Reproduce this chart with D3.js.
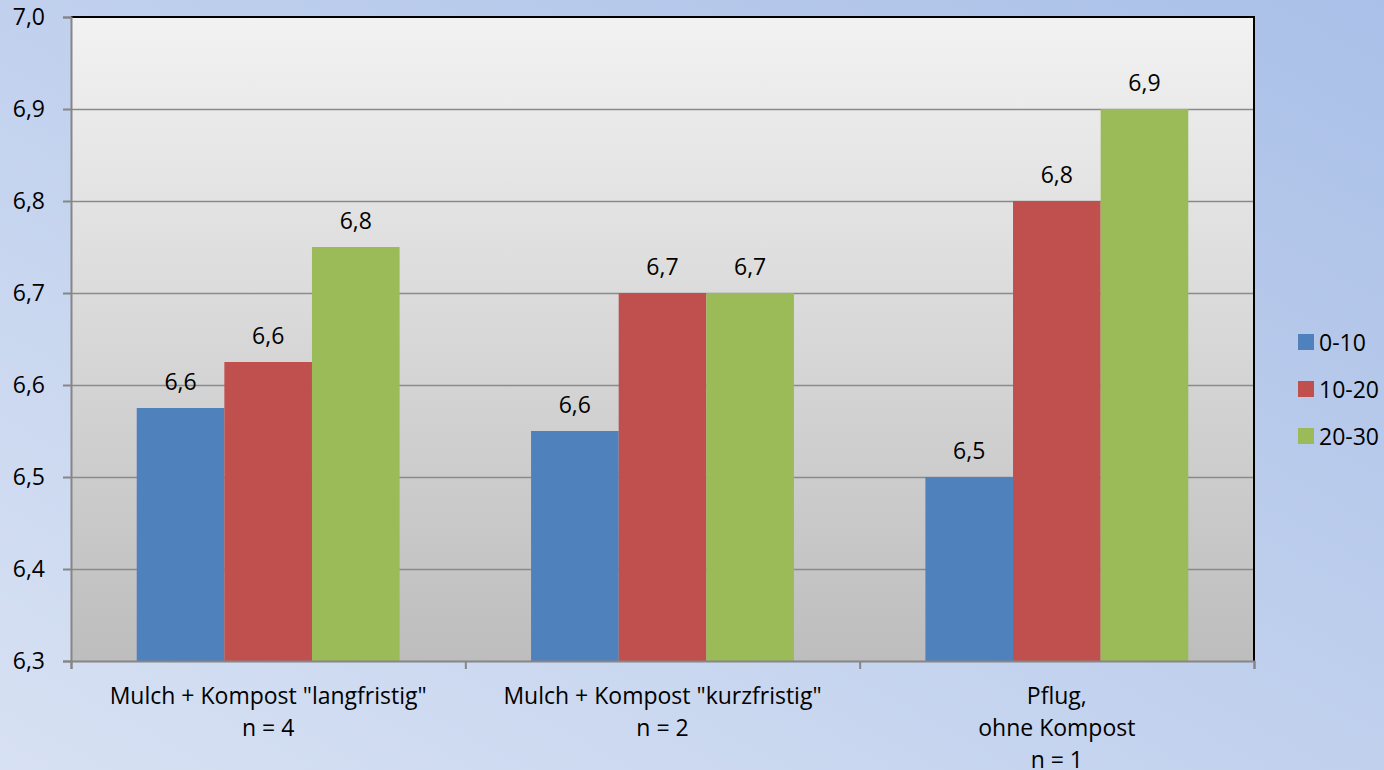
<!DOCTYPE html>
<html>
<head>
<meta charset="utf-8">
<script src="https://cdn.jsdelivr.net/npm/d3@7/dist/d3.min.js"></script>
<style>
  html, body { margin: 0; padding: 0; }
  body { width: 1384px; height: 770px; overflow: hidden; }
  svg text { font-family: "Open Sans", "Noto Sans", sans-serif; fill: #000; }
</style>
</head>
<body>
<svg id="chart" width="1384" height="770"></svg>
<script>
// Soil pH by depth (cm) for three tillage / compost variants
const categories = [
  ['Mulch + Kompost "langfristig"', 'n = 4'],
  ['Mulch + Kompost "kurzfristig"', 'n = 2'],
  ['Pflug,', 'ohne Kompost', 'n = 1']
];
const seriesNames = ["0-10", "10-20", "20-30"];
const depth0_10  = [6.575, 6.55, 6.5];
const depth10_20 = [6.625, 6.7, 6.8];
const depth20_30 = [6.75, 6.7, 6.9];
const yTicks = [6.3, 6.4, 6.5, 6.6, 6.7, 6.8, 6.9, 7.0];
const colors = ["#4f81bd", "#c0504d", "#9bbb59"];

const seriesValues = [depth0_10, depth10_20, depth20_30];
const FONT = 23;

const svg = d3.select("#chart");
const W = 1384, H = 770;
const plot = { left: 71, top: 17, right: 1254, bottom: 661 };

const defs = svg.append("defs");
const bg = defs.append("linearGradient").attr("id", "bg")
  .attr("x1", "0%").attr("y1", "100%").attr("x2", "100%").attr("y2", "0%");
bg.append("stop").attr("offset", "0%").attr("stop-color", "#d7e1f3");
bg.append("stop").attr("offset", "100%").attr("stop-color", "#aac0e8");

const pg = defs.append("linearGradient").attr("id", "plotbg")
  .attr("x1", "0").attr("y1", "0").attr("x2", "0").attr("y2", "1");
pg.append("stop").attr("offset", "0%").attr("stop-color", "#f2f2f2");
pg.append("stop").attr("offset", "100%").attr("stop-color", "#bdbdbd");

svg.append("rect").attr("width", W).attr("height", H).attr("fill", "url(#bg)");

const y = d3.scaleLinear().domain([6.3, 7.0]).range([plot.bottom, plot.top]);
const x0 = d3.scaleBand().domain(d3.range(categories.length))
  .range([plot.left, plot.right]).paddingInner(0).paddingOuter(0);
// bars fill 3/(3+1.5) of each category (gap width 150 %)
const x1 = d3.scaleBand().domain(d3.range(seriesNames.length))
  .range([0, x0.bandwidth()]).paddingOuter(0.75).paddingInner(0);

const fmt = v => d3.format(".1f")(v + 1e-9).replace(".", ",");

// plot area
svg.append("rect")
  .attr("x", plot.left).attr("y", plot.top)
  .attr("width", plot.right - plot.left).attr("height", plot.bottom - plot.top)
  .attr("fill", "url(#plotbg)");

// gridlines
svg.append("g").selectAll("line")
  .data(yTicks.filter(t => t > 6.3 && t < 7.0))
  .join("line")
  .attr("x1", plot.left).attr("x2", plot.right)
  .attr("y1", d => Math.round(y(d)) + 0.5).attr("y2", d => Math.round(y(d)) + 0.5)
  .attr("stroke", "#8a8a8a").attr("stroke-width", 1.5);

// bars
const groups = svg.append("g").selectAll("g")
  .data(categories.map((c, i) => i))
  .join("g")
  .attr("transform", i => `translate(${x0(i)},0)`);

groups.selectAll("rect")
  .data(i => seriesValues.map((s, k) => ({ k, v: s[i] })))
  .join("rect")
  .attr("x", d => x1(d.k))
  .attr("width", x1.bandwidth())
  .attr("y", d => y(d.v))
  .attr("height", d => y(6.3) - y(d.v))
  .attr("fill", d => colors[d.k]);

groups.selectAll("text")
  .data(i => seriesValues.map((s, k) => ({ k, v: s[i] })))
  .join("text")
  .attr("x", d => x1(d.k) + x1.bandwidth() / 2)
  .attr("y", d => y(d.v) - 27)
  .attr("text-anchor", "middle")
  .attr("dominant-baseline", "central")
  .attr("font-size", FONT)
  .text(d => fmt(d.v));

// frame: top and right edges black
svg.append("line").attr("x1", plot.left).attr("x2", plot.right + 1)
  .attr("y1", plot.top).attr("y2", plot.top).attr("stroke", "#000").attr("stroke-width", 2);
svg.append("line").attr("x1", plot.right).attr("x2", plot.right)
  .attr("y1", plot.top).attr("y2", plot.bottom).attr("stroke", "#000").attr("stroke-width", 2);

// y axis
const yAxis = svg.append("g").attr("transform", `translate(${plot.left},0)`)
  .call(d3.axisLeft(y).tickValues(yTicks).tickSize(8).tickPadding(18).tickFormat(fmt));
yAxis.select(".domain").attr("stroke", "#868686").attr("stroke-width", 2);
yAxis.selectAll(".tick line").attr("stroke", "#868686").attr("stroke-width", 2);
yAxis.selectAll(".tick text").attr("font-size", FONT)
  .attr("font-family", "'Open Sans', 'Noto Sans', sans-serif").attr("fill", "#000");

// x axis with ticks at category boundaries
const xb = d3.scaleLinear().domain([0, categories.length]).range([plot.left, plot.right]);
const xAxis = svg.append("g").attr("transform", `translate(0,${plot.bottom})`)
  .call(d3.axisBottom(xb).tickValues(d3.range(categories.length + 1)).tickSize(8).tickFormat(""));
xAxis.select(".domain").attr("stroke", "#868686").attr("stroke-width", 2);
xAxis.selectAll(".tick line").attr("stroke", "#868686").attr("stroke-width", 2);

// category labels
svg.append("g").selectAll("text")
  .data(categories)
  .join("text")
  .attr("x", (c, i) => x0(i) + x0.bandwidth() / 2)
  .attr("y", 696)
  .attr("text-anchor", "middle")
  .attr("font-size", FONT)
  .each(function (lines) {
    d3.select(this).selectAll("tspan").data(lines).join("tspan")
      .attr("x", d3.select(this).attr("x"))
      .attr("dy", (d, j) => j === 0 ? "0.35em" : 32)
      .text(d => d);
  });

// legend
const legend = svg.append("g").selectAll("g")
  .data(seriesNames)
  .join("g")
  .attr("transform", (d, i) => `translate(1298,${342 + i * 47})`);
legend.append("rect").attr("x", 0).attr("y", -8).attr("width", 16).attr("height", 16)
  .attr("fill", (d, i) => colors[i]);
legend.append("text").attr("x", 21).attr("y", 0).attr("dominant-baseline", "central")
  .attr("font-size", FONT).text(d => d);
</script>
</body>
</html>
